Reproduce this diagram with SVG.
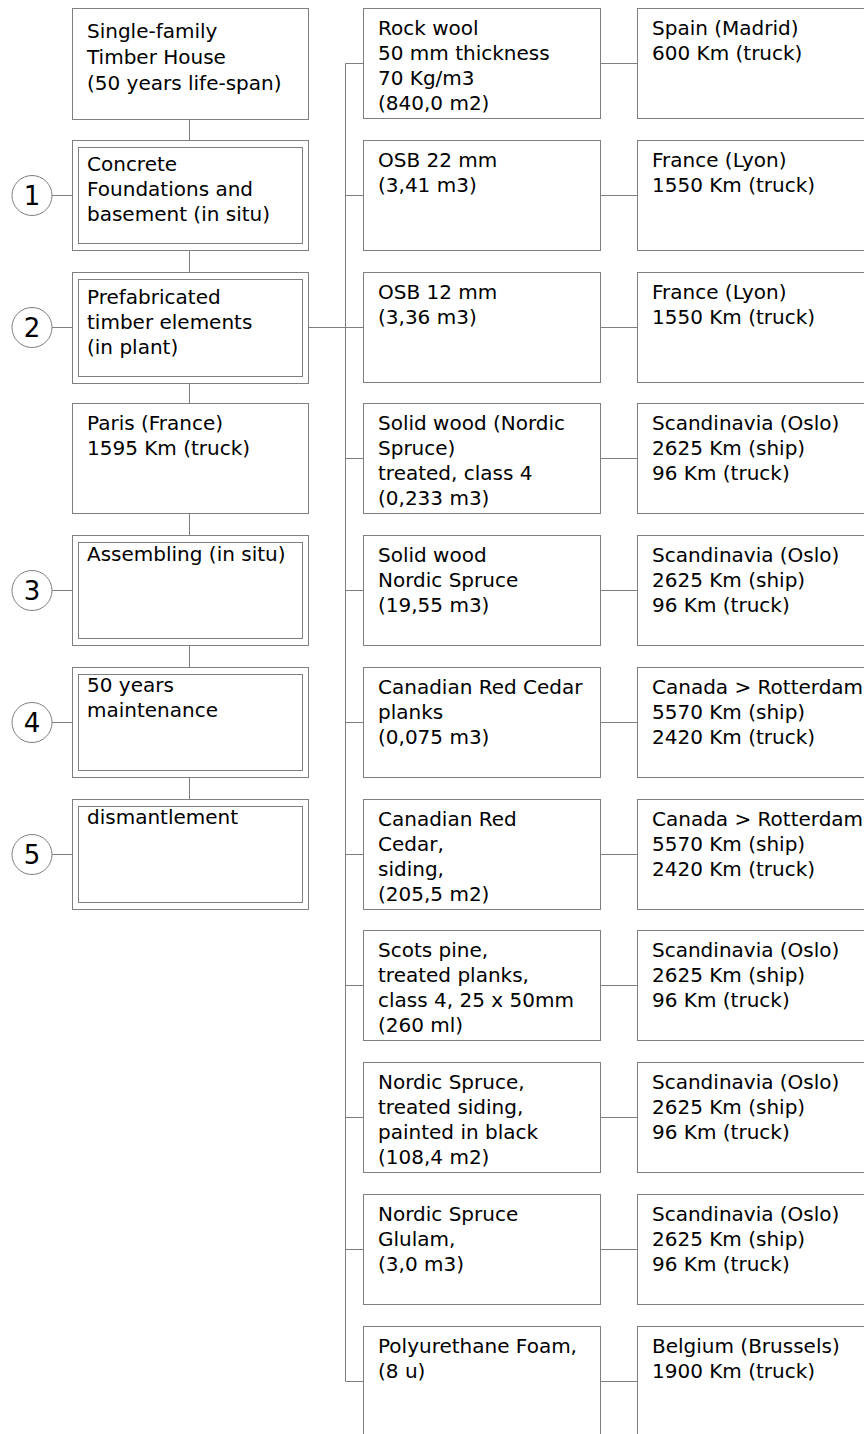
<svg xmlns="http://www.w3.org/2000/svg" width="864" height="1434" viewBox="0 0 864 1434">
<style>
.b{fill:#fff;stroke:#7f7f7f;stroke-width:1}
.c{fill:none;stroke:#7f7f7f;stroke-width:1}
text{font-family:"DejaVu Sans","Liberation Sans",sans-serif;font-size:20px;fill:#000}
.n{font-size:26px;text-anchor:middle}
</style>
<rect width="864" height="1434" fill="#fff"/>
<g id="connectors" class="c">
<path d="M189.5 119.5V140.5M189.5 250.5V272.5M189.5 383.5V403.5M189.5 513.5V535.5M189.5 645.5V667.5M189.5 777.5V799.5"/>
<path d="M52 195.5H72.5M52 327.5H72.5M52 590.5H72.5M52 722.5H72.5M52 854.5H72.5"/>
<path d="M308.5 327.5H345.5"/>
<path d="M345.5 63.5V1381.5"/>
<path d="M345.5 63.5H363.5M345.5 195.5H363.5M345.5 327.5H363.5M345.5 458.5H363.5M345.5 590.5H363.5M345.5 722.5H363.5M345.5 854.5H363.5M345.5 985.5H363.5M345.5 1117.5H363.5M345.5 1249.5H363.5M345.5 1381.5H363.5"/>
<path d="M600.5 63.5H637.5M600.5 195.5H637.5M600.5 327.5H637.5M600.5 458.5H637.5M600.5 590.5H637.5M600.5 722.5H637.5M600.5 854.5H637.5M600.5 985.5H637.5M600.5 1117.5H637.5M600.5 1249.5H637.5M600.5 1381.5H637.5"/>
</g>
<g id="house"><rect class="b" x="72.5" y="8.5" width="236" height="111"/>
<text x="87" y="38">Single-family</text><text x="87" y="64">Timber House</text><text x="87" y="90">(50 years life-span)</text></g>
<g id="step1"><circle class="b" cx="32" cy="195.5" r="20"/><text class="n" x="32" y="205">1</text>
<rect class="b" x="72.5" y="140.5" width="236" height="110"/><rect class="b" x="78.5" y="147.5" width="224" height="96"/>
<text x="87" y="171">Concrete</text><text x="87" y="196">Foundations and</text><text x="87" y="221">basement (in situ)</text></g>
<g id="step2"><circle class="b" cx="32" cy="327.5" r="20"/><text class="n" x="32" y="337">2</text>
<rect class="b" x="72.5" y="272.5" width="236" height="111"/><rect class="b" x="78.5" y="279.5" width="224" height="97"/>
<text x="87" y="304">Prefabricated</text><text x="87" y="329">timber elements</text><text x="87" y="354">(in plant)</text></g>
<g id="paris"><rect class="b" x="72.5" y="403.5" width="236" height="110"/>
<text x="87" y="430">Paris (France)</text><text x="87" y="455">1595 Km (truck)</text></g>
<g id="step3"><circle class="b" cx="32" cy="590.5" r="20"/><text class="n" x="32" y="600">3</text>
<rect class="b" x="72.5" y="535.5" width="236" height="110"/><rect class="b" x="78.5" y="542.5" width="224" height="96"/>
<text x="87" y="561">Assembling (in situ)</text></g>
<g id="step4"><circle class="b" cx="32" cy="722.5" r="20"/><text class="n" x="32" y="732">4</text>
<rect class="b" x="72.5" y="667.5" width="236" height="110"/><rect class="b" x="78.5" y="674.5" width="224" height="96"/>
<text x="87" y="692">50 years</text><text x="87" y="717">maintenance</text></g>
<g id="step5"><circle class="b" cx="32" cy="854.5" r="20"/><text class="n" x="32" y="864">5</text>
<rect class="b" x="72.5" y="799.5" width="236" height="110"/><rect class="b" x="78.5" y="806.5" width="224" height="96"/>
<text x="87" y="824">dismantlement</text></g>

<g id="m0"><rect class="b" x="363.5" y="8.5" width="237" height="110"/>
<text x="378" y="34.5">Rock wool</text><text x="378" y="59.5">50 mm thickness</text><text x="378" y="84.5">70 Kg/m3</text><text x="378" y="109.5">(840,0 m2)</text></g>
<g id="r0"><rect class="b" x="637.5" y="8.5" width="238" height="110"/>
<text x="652" y="34.5">Spain (Madrid)</text><text x="652" y="59.5">600 Km (truck)</text></g>

<g id="m1"><rect class="b" x="363.5" y="140.5" width="237" height="110"/>
<text x="378" y="167">OSB 22 mm</text><text x="378" y="192">(3,41 m3)</text></g>
<g id="r1"><rect class="b" x="637.5" y="140.5" width="238" height="110"/>
<text x="652" y="167">France (Lyon)</text><text x="652" y="192">1550 Km (truck)</text></g>

<g id="m2"><rect class="b" x="363.5" y="272.5" width="237" height="110"/>
<text x="378" y="299">OSB 12 mm</text><text x="378" y="324">(3,36 m3)</text></g>
<g id="r2"><rect class="b" x="637.5" y="272.5" width="238" height="110"/>
<text x="652" y="299">France (Lyon)</text><text x="652" y="324">1550 Km (truck)</text></g>

<g id="m3"><rect class="b" x="363.5" y="403.5" width="237" height="110"/>
<text x="378" y="430">Solid wood (Nordic</text><text x="378" y="455">Spruce)</text><text x="378" y="480">treated, class 4</text><text x="378" y="505">(0,233 m3)</text></g>
<g id="r3"><rect class="b" x="637.5" y="403.5" width="238" height="110"/>
<text x="652" y="430">Scandinavia (Oslo)</text><text x="652" y="455">2625 Km (ship)</text><text x="652" y="480">96 Km (truck)</text></g>

<g id="m4"><rect class="b" x="363.5" y="535.5" width="237" height="110"/>
<text x="378" y="562">Solid wood</text><text x="378" y="587">Nordic Spruce</text><text x="378" y="612">(19,55 m3)</text></g>
<g id="r4"><rect class="b" x="637.5" y="535.5" width="238" height="110"/>
<text x="652" y="562">Scandinavia (Oslo)</text><text x="652" y="587">2625 Km (ship)</text><text x="652" y="612">96 Km (truck)</text></g>

<g id="m5"><rect class="b" x="363.5" y="667.5" width="237" height="110"/>
<text x="378" y="694">Canadian Red Cedar</text><text x="378" y="719">planks</text><text x="378" y="744">(0,075 m3)</text></g>
<g id="r5"><rect class="b" x="637.5" y="667.5" width="238" height="110"/>
<text x="652" y="694">Canada &gt; Rotterdam</text><text x="652" y="719">5570 Km (ship)</text><text x="652" y="744">2420 Km (truck)</text></g>

<g id="m6"><rect class="b" x="363.5" y="799.5" width="237" height="110"/>
<text x="378" y="826">Canadian Red</text><text x="378" y="851">Cedar,</text><text x="378" y="876">siding,</text><text x="378" y="901">(205,5 m2)</text></g>
<g id="r6"><rect class="b" x="637.5" y="799.5" width="238" height="110"/>
<text x="652" y="826">Canada &gt; Rotterdam</text><text x="652" y="851">5570 Km (ship)</text><text x="652" y="876">2420 Km (truck)</text></g>

<g id="m7"><rect class="b" x="363.5" y="930.5" width="237" height="110"/>
<text x="378" y="957">Scots pine,</text><text x="378" y="982">treated planks,</text><text x="378" y="1007">class 4, 25 x 50mm</text><text x="378" y="1032">(260 ml)</text></g>
<g id="r7"><rect class="b" x="637.5" y="930.5" width="238" height="110"/>
<text x="652" y="957">Scandinavia (Oslo)</text><text x="652" y="982">2625 Km (ship)</text><text x="652" y="1007">96 Km (truck)</text></g>

<g id="m8"><rect class="b" x="363.5" y="1062.5" width="237" height="110"/>
<text x="378" y="1089">Nordic Spruce,</text><text x="378" y="1114">treated siding,</text><text x="378" y="1139">painted in black</text><text x="378" y="1164">(108,4 m2)</text></g>
<g id="r8"><rect class="b" x="637.5" y="1062.5" width="238" height="110"/>
<text x="652" y="1089">Scandinavia (Oslo)</text><text x="652" y="1114">2625 Km (ship)</text><text x="652" y="1139">96 Km (truck)</text></g>

<g id="m9"><rect class="b" x="363.5" y="1194.5" width="237" height="110"/>
<text x="378" y="1221">Nordic Spruce</text><text x="378" y="1246">Glulam,</text><text x="378" y="1271">(3,0 m3)</text></g>
<g id="r9"><rect class="b" x="637.5" y="1194.5" width="238" height="110"/>
<text x="652" y="1221">Scandinavia (Oslo)</text><text x="652" y="1246">2625 Km (ship)</text><text x="652" y="1271">96 Km (truck)</text></g>

<g id="m10"><rect class="b" x="363.5" y="1326.5" width="237" height="110"/>
<text x="378" y="1353">Polyurethane Foam,</text><text x="378" y="1378">(8 u)</text></g>
<g id="r10"><rect class="b" x="637.5" y="1326.5" width="238" height="110"/>
<text x="652" y="1353">Belgium (Brussels)</text><text x="652" y="1378">1900 Km (truck)</text></g>
</svg>
